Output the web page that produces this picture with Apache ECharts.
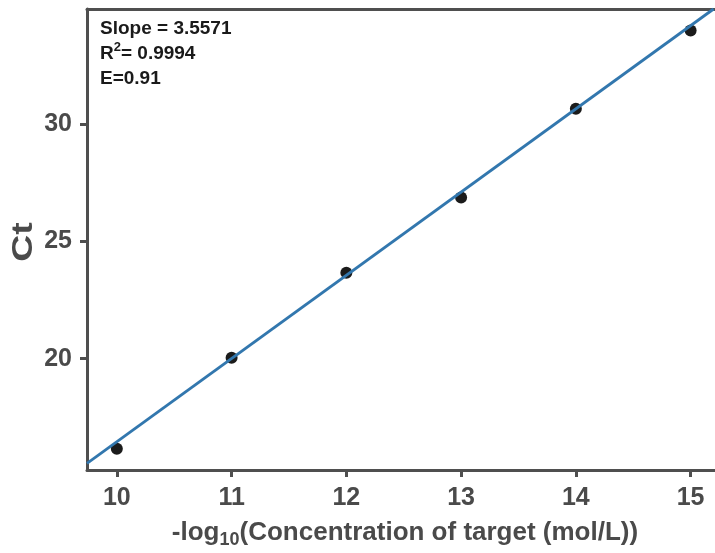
<!DOCTYPE html>
<html>
<head>
<meta charset="utf-8">
<script src="https://cdn.jsdelivr.net/npm/echarts@6/dist/echarts.min.js"></script>
<style>
html,body{margin:0;padding:0;background:#fff;overflow:hidden;}
#chart{width:715px;height:553px;}
</style>
</head>
<body>
<div id="chart"></div>
<script>
// Data
var xValues = [10, 11, 12, 13, 14, 15];
var ctValues = [16.15, 20.04, 23.67, 26.88, 30.68, 34.02];
var fitLineX = [9.74, 15.2];
var fitLineY = [15.52, 34.94];
var xTickValues = [10, 11, 12, 13, 14, 15];
var yTickValues = [20, 25, 30];
var annotationLines = ['Slope = 3.5571', 'R2= 0.9994', 'E=0.91'];

var points = xValues.map(function (x, i) { return [x, ctValues[i]]; });
var fitLine = fitLineX.map(function (x, i) { return [x, fitLineY[i]]; });

var axisColor = '#4f4f4f';
var labelColor = '#4a4a4a';
var fontFam = '"Liberation Sans", Arial, Helvetica, sans-serif';

var chart = echarts.init(document.getElementById('chart'), null, {renderer: 'canvas'});
var option = {
  animation: false,
  backgroundColor: '#fff',
  grid: {
    left: 87, top: 9, right: -33, bottom: 83, show: false,
    outerBoundsMode: 'none', containLabel: false
  },
  xAxis: [{
    type: 'value', min: 9.74, max: 15.5, position: 'bottom',
    splitLine: {show: false},
    axisLine: {show: true, onZero: false, lineStyle: {color: axisColor, width: 3}},
    axisTick: {show: true, customValues: xTickValues, length: 7, lineStyle: {color: axisColor, width: 3}},
    axisLabel: {customValues: xTickValues, color: labelColor, fontSize: 25, fontWeight: 'bold', fontFamily: fontFam, margin: 16}
  }, {
    type: 'value', min: 9.74, max: 15.5, position: 'top',
    splitLine: {show: false},
    axisLine: {show: true, onZero: false, lineStyle: {color: axisColor, width: 3}},
    axisTick: {show: false},
    axisLabel: {show: false}
  }],
  yAxis: {
    type: 'value', min: 15.24, max: 34.94,
    splitLine: {show: false},
    axisLine: {show: true, onZero: false, lineStyle: {color: axisColor, width: 3}},
    axisTick: {show: true, customValues: yTickValues, length: 7, lineStyle: {color: axisColor, width: 3}},
    axisLabel: {customValues: yTickValues, color: labelColor, fontSize: 25, fontWeight: 'bold', fontFamily: fontFam, margin: 15}
  },
  graphic: [
    {
      type: 'text', left: 100, top: 16,
      style: {
        text: annotationLines[0] + '\n{t|R}{s|2}{t|' + annotationLines[1].slice(2) + '}\n' + annotationLines[2],
        font: 'bold 19px ' + fontFam, fill: '#1a1a1a', lineHeight: 25,
        rich: {
          t: {font: 'bold 19px ' + fontFam, fill: '#1a1a1a', lineHeight: 25},
          s: {font: 'bold 13px ' + fontFam, fill: '#1a1a1a', verticalAlign: 'top', lineHeight: 25, padding: [0, 0, 9, 0]}
        }
      }
    },
    {
      type: 'text', x: 24, y: 242, rotation: Math.PI / 2, scaleX: 1.25,
      style: {text: 'Ct', font: 'bold 30px ' + fontFam, fill: labelColor, align: 'center', verticalAlign: 'middle'}
    },
    {
      type: 'text', x: 405, y: 533,
      style: {
        text: '{a|-log}{b|10}{a|(Concentration of target (mol/L))}',
        align: 'center', verticalAlign: 'middle',
        rich: {
          a: {font: 'bold 26px ' + fontFam, fill: labelColor},
          b: {font: 'bold 18px ' + fontFam, fill: labelColor, padding: [15, 0, 0, 0]}
        }
      }
    }
  ],
  series: [
    {
      type: 'line', data: fitLine, showSymbol: false, symbol: 'none',
      lineStyle: {color: '#3277ae', width: 2.8}, z: 3
    },
    {
      type: 'scatter', data: points, symbol: 'circle', symbolSize: 12,
      itemStyle: {color: '#1b1b1b', opacity: 1}, z: 2
    }
  ]
};
chart.setOption(option);
</script>
</body>
</html>
